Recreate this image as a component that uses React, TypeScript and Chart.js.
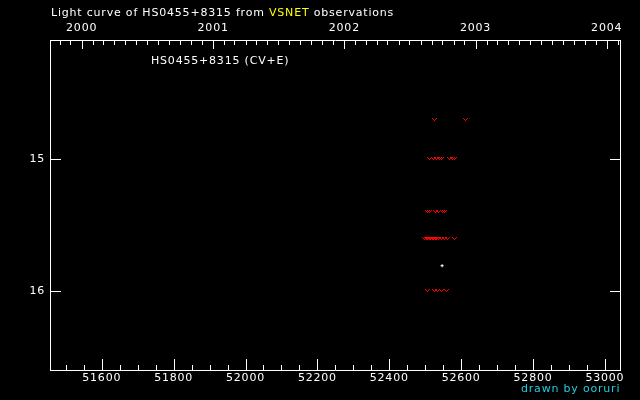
import React, { useEffect, useRef } from "react";
import { Chart, registerables } from "chart.js";

Chart.register(...registerables);

// ---- text ----
const TITLE_PRE = "Light curve of HS0455+8315 from ";
const TITLE_VSNET = "VSNET";
const TITLE_POST = " observations";
const STAR_LABEL = "HS0455+8315 (CV+E)";
const CREDIT = "drawn by ooruri";

// ---- axes ----
const mjdMin = 51456;
const mjdMax = 53042;
const magMin = 14.1;
const magMax = 16.6;
const mjdTickLabels = [51600, 51800, 52000, 52200, 52400, 52600, 52800, 53000];
const mjdMinorTicks = [
  51500, 51550, 51600, 51650, 51700, 51750, 51800, 51850, 51900, 51950, 52000,
  52050, 52100, 52150, 52200, 52250, 52300, 52350, 52400, 52450, 52500, 52550,
  52600, 52650, 52700, 52750, 52800, 52850, 52900, 52950, 53000,
];
const yearTickLabels = [2000, 2001, 2002, 2003, 2004];
const yearsForMonths = [1999, 2000, 2001, 2002, 2003, 2004];
const magTickLabels = [15, 16];

// ---- data: fainter-than (negative) observations ----
const negMjd = [
  52525, 52611,
  52513, 52522, 52532, 52539, 52546, 52568, 52575, 52581,
  52507, 52513, 52529, 52538, 52547, 52555,
  52499, 52503, 52507, 52511, 52515, 52519, 52523, 52528, 52532, 52537, 52546, 52554, 52563, 52581,
  52505, 52527, 52535, 52545, 52559,
];
const negMag = [
  14.7, 14.7,
  15.0, 15.0, 15.0, 15.0, 15.0, 15.0, 15.0, 15.0,
  15.4, 15.4, 15.4, 15.4, 15.4, 15.4,
  15.6, 15.6, 15.6, 15.6, 15.6, 15.6, 15.6, 15.6, 15.6, 15.6, 15.6, 15.6, 15.6, 15.6,
  16.0, 16.0, 16.0, 16.0, 16.0,
];
// ---- data: positive detection ----
const posMjd = [52547];
const posMag = [15.81];

const FONT_FAMILY = '"DejaVu Sans", sans-serif';
const FONT_SIZE = 11;
const LETTER_SPACING = "0.8px";

function monthStartMjd(y: number, m: number): number {
  return Date.UTC(y, m, 1) / 86400000 + 40587;
}

function makeVMarker(): HTMLCanvasElement {
  const c = document.createElement("canvas");
  c.width = 5;
  c.height = 3;
  const g = c.getContext("2d")!;
  g.fillStyle = "#ff0000";
  [
    [0, 0],
    [4, 0],
    [1, 1],
    [3, 1],
    [2, 2],
  ].forEach(([x, y]) => g.fillRect(x, y, 1, 1));
  return c;
}

export default function App() {
  const ref = useRef<HTMLCanvasElement | null>(null);

  useEffect(() => {
    if (!ref.current) return;

    const monthTicks: number[] = [];
    const monthIsYear: boolean[] = [];
    yearsForMonths.forEach((y) => {
      for (let m = 0; m < 12; m++) {
        const v = monthStartMjd(y, m);
        if (v >= mjdMin && v <= mjdMax) {
          monthTicks.push(v);
          monthIsYear.push(m === 0);
        }
      }
    });

    const font = { family: FONT_FAMILY, size: FONT_SIZE };

    const textPlugin = {
      id: "textAndTicks",
      beforeDraw(chart: any) {
        chart.ctx.letterSpacing = LETTER_SPACING;
        chart.ctx.imageSmoothingEnabled = false;
      },
      beforeDatasetsDraw(chart: any) {
        chart.ctx.imageSmoothingEnabled = false;
      },
      beforeDatasetDraw(chart: any) {
        chart.ctx.imageSmoothingEnabled = false;
      },
      afterDraw(chart: any) {
        const { ctx, chartArea: a, scales } = chart;
        ctx.save();
        ctx.letterSpacing = LETTER_SPACING;
        // inward ticks
        ctx.strokeStyle = "#ffffff";
        ctx.lineWidth = 1;
        ctx.beginPath();
        const bottom = Math.round(a.bottom);
        const top = Math.round(a.top);
        const left = Math.round(a.left);
        const right = Math.round(a.right);
        scales.x.ticks.forEach((t: any) => {
          const px = Math.round(scales.x.getPixelForValue(t.value)) + 0.5;
          const len = mjdTickLabels.includes(t.value) ? 11 : 5;
          ctx.moveTo(px, bottom);
          ctx.lineTo(px, bottom - len);
        });
        scales.x2.ticks.forEach((t: any) => {
          const px = Math.round(scales.x2.getPixelForValue(t.value)) + 0.5;
          const idx = monthTicks.indexOf(t.value);
          const len = idx >= 0 && monthIsYear[idx] ? 9 : 5;
          ctx.moveTo(px, top);
          ctx.lineTo(px, top + len);
        });
        scales.y.ticks.forEach((t: any) => {
          const py = Math.round(scales.y.getPixelForValue(t.value)) + 0.5;
          ctx.moveTo(left, py);
          ctx.lineTo(left + 11, py);
        });
        scales.y2.ticks.forEach((t: any) => {
          const py = Math.round(scales.y2.getPixelForValue(t.value)) + 0.5;
          ctx.moveTo(right + 1, py);
          ctx.lineTo(right - 10, py);
        });
        ctx.stroke();

        // texts
        ctx.font = `${FONT_SIZE}px ${FONT_FAMILY}`;
        ctx.textBaseline = "alphabetic";
        ctx.textAlign = "left";
        let x = 51;
        ctx.fillStyle = "#ffffff";
        ctx.fillText(TITLE_PRE, x, 16);
        x += ctx.measureText(TITLE_PRE).width;
        ctx.fillStyle = "#ffff00";
        ctx.fillText(TITLE_VSNET, x, 16);
        x += ctx.measureText(TITLE_VSNET).width;
        ctx.fillStyle = "#ffffff";
        ctx.fillText(TITLE_POST, x, 16);

        ctx.fillStyle = "#ffffff";
        ctx.fillText(STAR_LABEL, 151, 64);

        ctx.fillStyle = "#22cce0";
        ctx.fillText(CREDIT, 521, 392);
        ctx.restore();
      },
    };

    const chart = new Chart(ref.current, {
      type: "scatter",
      data: {
        datasets: [
          {
            label: "fainter than",
            data: negMjd.map((m, i) => ({ x: m, y: negMag[i] })),
            pointStyle: makeVMarker() as any,
            pointRadius: 3,
            backgroundColor: "#ff0000",
            borderColor: "#ff0000",
            showLine: false,
          },
          {
            label: "positive",
            data: posMjd.map((m, i) => ({ x: m, y: posMag[i] })),
            pointStyle: "cross",
            pointRadius: 1.6,
            borderColor: "#ffffff",
            borderWidth: 1,
            showLine: false,
          },
        ],
      },
      options: {
        responsive: false,
        animation: false,
        devicePixelRatio: 1,
        layout: { padding: 0 },
        plugins: {
          legend: { display: false },
          tooltip: { enabled: false },
          title: { display: false },
        },
        scales: {
          x: {
            type: "linear",
            position: "bottom",
            min: mjdMin,
            max: mjdMax,
            bounds: "data",
            afterBuildTicks: (s: any) => {
              s.ticks = mjdMinorTicks.map((v) => ({ value: v }));
            },
            afterFit: (s: any) => {
              s.height = 30;
            },
            grid: { display: false, drawTicks: false },
            border: { display: true, color: "#ffffff", width: 1 },
            ticks: {
              color: "#ffffff",
              font,
              padding: 2,
              autoSkip: false,
              maxRotation: 0,
              minRotation: 0,
              callback: (v: any) => (mjdTickLabels.includes(v) ? String(v) : ""),
            },
          },
          x2: {
            type: "linear",
            position: "top",
            display: true,
            min: mjdMin,
            max: mjdMax,
            bounds: "data",
            afterBuildTicks: (s: any) => {
              s.ticks = monthTicks.map((v) => ({ value: v }));
            },
            afterFit: (s: any) => {
              s.height = 40;
            },
            grid: { display: false, drawTicks: false },
            border: { display: true, color: "#ffffff", width: 1 },
            ticks: {
              color: "#ffffff",
              font,
              padding: 5,
              autoSkip: false,
              maxRotation: 0,
              minRotation: 0,
              callback: (v: any) => {
                const i = yearTickLabels.findIndex((y) => monthStartMjd(y, 0) === v);
                return i >= 0 ? String(yearTickLabels[i]) : "";
              },
            },
          },
          y: {
            type: "linear",
            position: "left",
            reverse: true,
            min: magMin,
            max: magMax,
            bounds: "data",
            afterBuildTicks: (s: any) => {
              s.ticks = magTickLabels.map((v) => ({ value: v }));
            },
            afterFit: (s: any) => {
              s.width = 50;
            },
            grid: { display: false, drawTicks: false },
            border: { display: true, color: "#ffffff", width: 1 },
            ticks: {
              color: "#ffffff",
              font,
              padding: 5,
              callback: (v: any) => String(v),
            },
          },
          y2: {
            type: "linear",
            position: "right",
            display: true,
            reverse: true,
            min: magMin,
            max: magMax,
            bounds: "data",
            afterBuildTicks: (s: any) => {
              s.ticks = magTickLabels.map((v) => ({ value: v }));
            },
            afterFit: (s: any) => {
              s.width = 20;
            },
            grid: { display: false, drawTicks: false },
            border: { display: true, color: "#ffffff", width: 1 },
            ticks: { display: false },
          },
        },
      } as any,
      plugins: [textPlugin],
    });

    return () => chart.destroy();
  }, []);

  return (
    <div
      style={{
        position: "fixed",
        left: 0,
        top: 0,
        width: 640,
        height: 400,
        background: "#000000",
      }}
    >
      <canvas ref={ref} width={640} height={400} style={{ display: "block" }} />
    </div>
  );
}
